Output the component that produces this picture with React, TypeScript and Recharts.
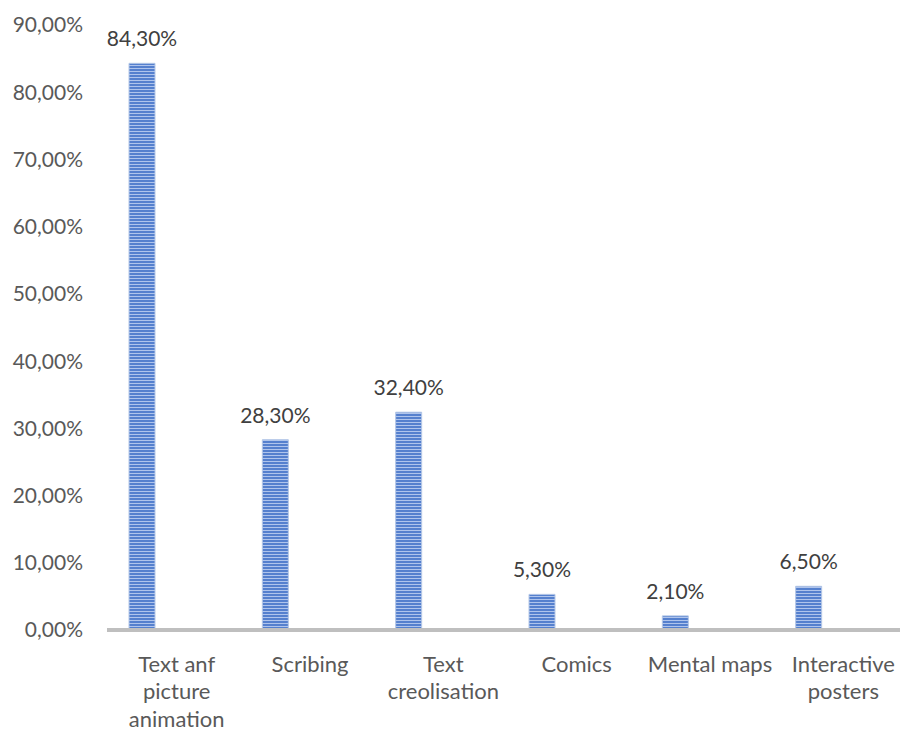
import React from "react";
import { BarChart, Bar, XAxis, YAxis, LabelList } from "recharts";

const categories = [
  "Text anf\npicture\nanimation",
  "Scribing",
  "Text\ncreolisation",
  "Comics",
  "Mental maps",
  "Interactive\nposters",
];
const shares = [84.3, 28.3, 32.4, 5.3, 2.1, 6.5];
const yTicks = [0, 10, 20, 30, 40, 50, 60, 70, 80, 90];

const data = categories.map((name, i) => ({ name, share: shares[i] }));

const FONT = "Lato, 'Open Sans', sans-serif";
const pct = (v: number | string) => Number(v).toFixed(2).replace(".", ",") + "%";

function CategoryTick(props: any) {
  const { x, y, payload } = props;
  const lines = String(payload.value).split("\n");
  return (
    <g transform={`translate(${x},${y})`}>
      {lines.map((line, i) => (
        <text
          key={i}
          x={3}
          y={25 + i * 27.5}
          textAnchor="middle"
          dominantBaseline="central"
          fill="#595959"
          fontSize={22}
          fontFamily={FONT}
        >
          {line}
        </text>
      ))}
    </g>
  );
}

export default function App() {
  return (
    <div style={{ position: "absolute", left: 0, top: 0, width: 900, height: 734, overflow: "hidden", background: "#fff" }}>
      <BarChart
        width={907}
        height={734}
        data={data}
        margin={{ top: 25, right: 0, bottom: 0, left: 0 }}
        barGap={0}
      >
        <defs>
          <pattern id="hstripes" patternUnits="userSpaceOnUse" width={4} height={3}>
            <rect x={0} y={0} width={4} height={3} fill="#5580CE" />
            <rect x={0} y={2} width={4} height={1} fill="#AFC4EC" />
          </pattern>
        </defs>
        <XAxis
          dataKey="name"
          interval={0}
          height={104}
          tickLine={false}
          axisLine={{ stroke: "#BFBFBF", strokeWidth: 4 }}
          tick={<CategoryTick />}
        />
        <YAxis
          width={107}
          domain={[0, 90]}
          ticks={yTicks}
          axisLine={false}
          tickLine={false}
          tickSize={0}
          tickMargin={24}
          tickFormatter={pct}
          tick={{ fill: "#595959", fontSize: 21, fontFamily: FONT }}
        />
        <Bar
          dataKey="share"
          barSize={26}
          fill="url(#hstripes)"
          stroke="#B4C7E7"
          strokeWidth={1}
          isAnimationActive={false}
        >
          <LabelList
            dataKey="share"
            position="top"
            offset={17}
            formatter={pct}
            fill="#404040"
            fontSize={21}
            fontFamily={FONT}
          />
        </Bar>
        <Bar dataKey="blank" barSize={63} fill="none" isAnimationActive={false} />
      </BarChart>
    </div>
  );
}
